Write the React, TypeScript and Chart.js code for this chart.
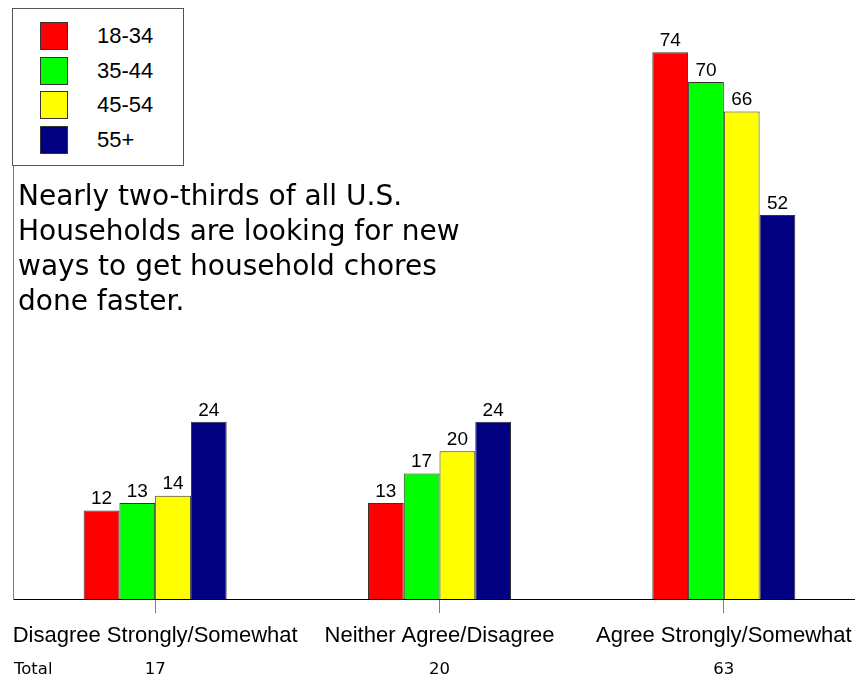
import React, { useEffect, useRef } from "react";
import { Chart, registerables } from "chart.js";

Chart.register(...registerables);

const categories = ["Disagree Strongly/Somewhat", "Neither Agree/Disagree", "Agree Strongly/Somewhat"];
const totals = ["17", "20", "63"];
const seriesNames = ["18-34", "35-44", "45-54", "55+"];
const s1834 = [12, 13, 74];
const s3544 = [13, 17, 70];
const s4554 = [14, 20, 66];
const s55 = [24, 24, 52];
const seriesColors = ["#FF0000", "#00FF00", "#FFFF00", "#000080"];
const noteLines = [
  "Nearly two-thirds of all U.S.",
  "Households are looking for new",
  "ways to get household chores",
  "done faster.",
];

const valueLabels = {
  id: "valueLabels",
  afterDatasetsDraw(chart: any) {
    const ctx = chart.ctx;
    ctx.save();
    ctx.font = "19px 'Liberation Sans', Arial, sans-serif";
    ctx.fillStyle = "#000";
    ctx.textAlign = "center";
    ctx.textBaseline = "bottom";
    chart.data.datasets.forEach((ds: any, i: number) => {
      const meta = chart.getDatasetMeta(i);
      meta.data.forEach((el: any, j: number) => {
        ctx.fillText(String(ds.data[j]), el.x, el.y - 2);
      });
    });
    ctx.restore();
  },
};

export default function App() {
  const ref = useRef<HTMLCanvasElement | null>(null);
  useEffect(() => {
    if (!ref.current) return;
    const all = [s1834, s3544, s4554, s55];
    const chart = new Chart(ref.current, {
      type: "bar",
      data: {
        labels: categories,
        datasets: all.map((d, i) => ({
          label: seriesNames[i],
          data: d,
          backgroundColor: seriesColors[i],
          borderColor: "#333333",
          borderWidth: 1,
          categoryPercentage: 0.503,
          barPercentage: 1,
        })),
      },
      options: {
        animation: false,
        responsive: false,
        maintainAspectRatio: false,
        layout: { padding: { left: 13, right: 4, top: 8, bottom: 0 } },
        plugins: { legend: { display: false }, tooltip: { enabled: false } },
        scales: {
          x: {
            position: "bottom",
            grid: {
              display: true,
              drawOnChartArea: false,
              drawTicks: true,
              tickLength: 14,
              color: "#808080",
              offset: false,
            },
            border: { display: true, color: "#000", width: 1 },
            ticks: {
              color: "#000",
              padding: 10,
              maxRotation: 0,
              autoSkip: false,
              font: { family: "'Liberation Sans', Arial, sans-serif", size: 22, lineHeight: 1.2 },
            },
          },
          x2: {
            type: "category",
            position: "bottom",
            labels: totals,
            offset: true,
            grid: { display: false, drawTicks: false, tickLength: 0 },
            border: { display: false },
            ticks: {
              color: "#000",
              padding: 2,
              font: { family: "'DejaVu Sans', Verdana, sans-serif", size: 16.5, lineHeight: 1 },
            },
          },
          y: {
            display: true,
            min: 0,
            max: 80,
            ticks: { display: false },
            grid: { display: false, drawTicks: false, tickLength: 0 },
            border: { display: true, color: "#808080", width: 1 },
          },
        },
      },
      plugins: [valueLabels],
    });
    return () => chart.destroy();
  }, []);

  return (
    <div style={{ position: "fixed", left: 0, top: 0, width: 855, height: 677, overflow: "hidden", background: "#fff" }}>
      <canvas ref={ref} width={870} height={680} style={{ position: "absolute", left: 0, top: 0 }} />
      <div
        style={{
          position: "absolute",
          left: 12,
          top: 8,
          width: 172,
          height: 158,
          border: "1px solid #555",
          boxSizing: "border-box",
          background: "#fff",
          fontFamily: "'Liberation Sans', Arial, sans-serif",
          fontSize: 22,
        }}
      >
        {seriesNames.map((n, i) => (
          <div key={n} style={{ position: "absolute", left: 27, top: 13 + i * 34.5, height: 28, display: "flex", alignItems: "center" }}>
            <div style={{ width: 28, height: 28, boxSizing: "border-box", background: seriesColors[i], border: "1px solid #333" }} />
            <span style={{ marginLeft: 29 }}>{n}</span>
          </div>
        ))}
      </div>
      <div
        style={{
          position: "absolute",
          left: 18,
          top: 178,
          fontFamily: "'DejaVu Sans', Verdana, sans-serif",
          fontSize: 28,
          lineHeight: "35px",
          color: "#000",
          whiteSpace: "nowrap",
        }}
      >
        {noteLines.map((l) => (
          <div key={l}>{l}</div>
        ))}
      </div>
      <div
        style={{
          position: "absolute",
          left: 14,
          top: 660,
          fontFamily: "'DejaVu Sans', Verdana, sans-serif",
          fontSize: 16.5,
          lineHeight: "17px",
          color: "#000",
        }}
      >
        Total
      </div>
    </div>
  );
}
